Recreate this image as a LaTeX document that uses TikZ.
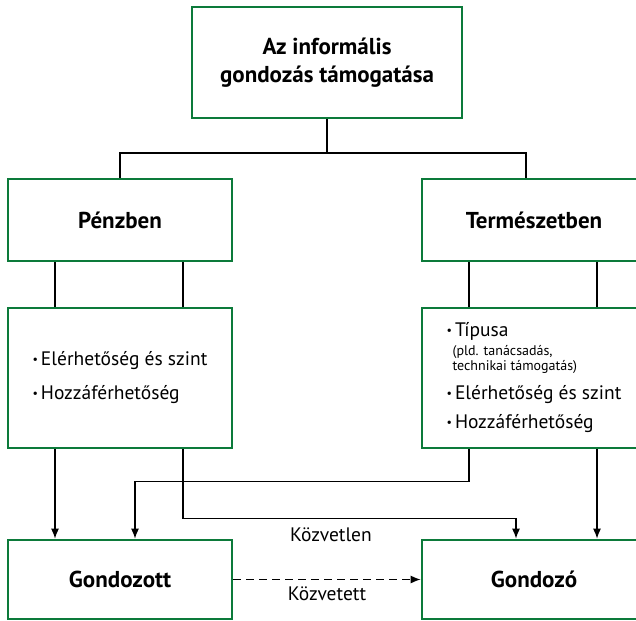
\documentclass[tikz,border=0pt]{standalone}
\usepackage{fontspec}
\setmainfont{PT Sans}
\usetikzlibrary{arrows.meta}

\definecolor{boxgreen}{RGB}{12,122,58}
\newcommand{\listdot}{\raisebox{0.22ex}{\fontsize{12}{12}\selectfont\textbullet}\hspace{3pt}}

\tikzset{
  greenbox/.style={draw=boxgreen, line width=2.8pt, rectangle, minimum width=224, align=center},
  titletext/.style={font=\fontsize{23}{28}\selectfont\bfseries},
  listtext/.style={font=\fontsize{19.5}{23}\selectfont, align=left},
  conn/.style={line width=1.1pt},
  arr/.style={conn, -{Latex[length=10pt,width=8pt]}}
}

\begin{document}
\begin{tikzpicture}[x=1pt,y=1pt,yscale=-1]
\useasboundingbox (0,0) rectangle (636,620);

% Boxes
\node[greenbox, titletext, minimum width=270, minimum height=111] (top) at (327,62.5) {Az informális\\gondozás támogatása};
\node[greenbox, titletext, minimum height=82] (penz) at (120,220) {Pénzben};
\node[greenbox, titletext, minimum height=82] (term) at (534,220) {Természetben};

% List boxes
\node[greenbox, listtext, minimum height=140] (penzlist) at (120,378) {%
  \listdot Elérhetőség és szint\\[11pt]
  \listdot Hozzáférhetőség};
\node[greenbox, listtext, minimum height=140] (termlist) at (534,378) {%
  \listdot Típusa\\[-4pt]
  \hspace{6pt}{\fontsize{14}{17}\selectfont (pld. tanácsadás,}\\[-8pt]
  \hspace{6pt}{\fontsize{14}{17}\selectfont technikai támogatás)}\\[6pt]
  \listdot Elérhetőség és szint\\[6pt]
  \listdot Hozzáférhetőség};

% Receivers
\node[greenbox, titletext, minimum height=79] (gondozott) at (120,579.5) {Gondozott};
\node[greenbox, titletext, minimum height=79] (gondozo) at (534,579.5) {Gondozó};

% Tree lines
\coordinate (split) at (327,153);
\draw[conn] (top.south) -- (split);
\draw[conn] (penz.north) |- (split) -| ([xshift=-8pt]term.north);
\foreach \dx in {-65,63}{
  \draw[conn] ([xshift=\dx pt]penz.south) -- ([xshift=\dx pt]penzlist.north);
  \draw[conn] ([xshift=\dx pt]term.south) -- ([xshift=\dx pt]termlist.north);
}

% Arrows down
\draw[arr] ([xshift=-65pt]penzlist.south) -- ([xshift=-65pt]gondozott.north);
\draw[arr] ([xshift=63pt]termlist.south) -- ([xshift=63pt]gondozo.north);
\draw[arr] ([xshift=63pt]penzlist.south) -- ++(0,69) -| ([xshift=-18pt]gondozo.north);
\draw[arr] ([xshift=-65pt]termlist.south) -- ++(0,32) -| ([xshift=15pt]gondozott.north);

% Text Node
\node[font=\fontsize{19.5}{23}\selectfont] (direct) at (331,535) {Közvetlen};

% Dashed arrow
\draw[arr, dash pattern=on 8pt off 5pt] (gondozott.east) -- (gondozo.west)
  node[midway, below=3pt, font=\fontsize{19.5}{23}\selectfont] (indirect) {Közvetett};

\end{tikzpicture}
\end{document}
